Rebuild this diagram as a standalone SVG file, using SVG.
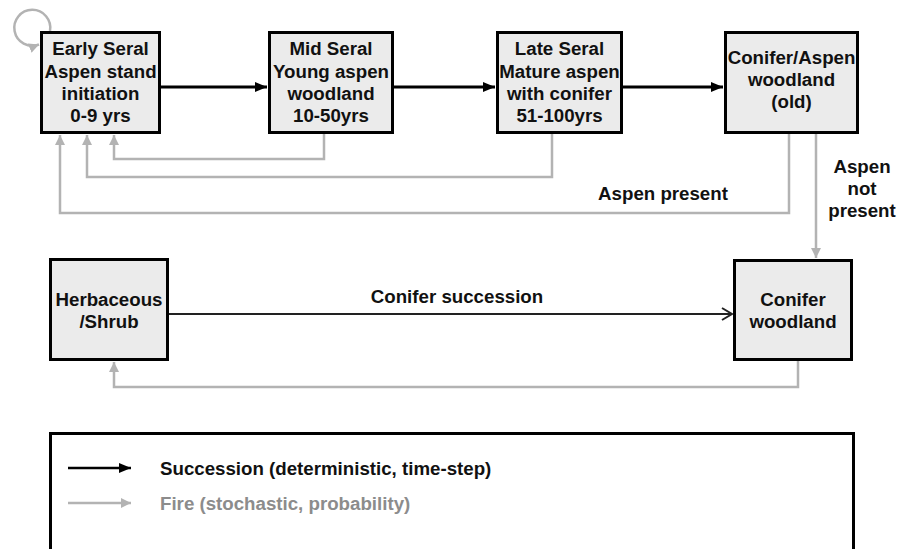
<svg xmlns="http://www.w3.org/2000/svg" width="898" height="549" viewBox="0 0 898 549">
<style>
  .box { fill: #ebebeb; stroke: #000; stroke-width: 3; }
  .t { font-family: "Liberation Sans", Arial, sans-serif; font-weight: bold; font-size: 18.7px; fill: #111; text-anchor: middle; }
  .lbl { font-family: "Liberation Sans", Arial, sans-serif; font-weight: bold; font-size: 18.7px; fill: #111; }
  .succ { fill: none; stroke: #000; stroke-width: 3; marker-end: url(#blk); }
  .fire { fill: none; stroke: #b3b3b3; stroke-width: 2.5; marker-end: url(#gry); }
</style>
<defs>
  <marker id="blk" markerUnits="userSpaceOnUse" markerWidth="14" markerHeight="12" refX="12" refY="6" orient="auto">
    <path d="M0,1 L12,6 L0,11 Z" fill="#000"/>
  </marker>
  <marker id="gry" markerUnits="userSpaceOnUse" markerWidth="12" markerHeight="12" refX="10" refY="6" orient="auto">
    <path d="M0,1 L10,6 L0,11 Z" fill="#b3b3b3"/>
  </marker>
  <marker id="open" markerUnits="userSpaceOnUse" markerWidth="14" markerHeight="14" refX="11" refY="7" orient="auto">
    <path d="M1,1 L11,7 L1,13" fill="none" stroke="#222" stroke-width="2"/>
  </marker>
</defs>

<g id="connectors">
  <path class="fire" d="M50,31 A18,18 0 1 0 39,44.5"/>
  <line class="succ" x1="161" y1="87" x2="267" y2="87"/>
  <line class="succ" x1="394" y1="87" x2="495" y2="87"/>
  <line class="succ" x1="623" y1="87" x2="723" y2="87"/>
  <path class="fire" d="M324,134 V159 H114 V135"/>
  <path class="fire" d="M552,134 V177 H87 V135"/>
  <path class="fire" d="M789,134 V213 H60 V135"/>
  <path class="fire" d="M816,134 V258"/>
  <line x1="169" y1="314" x2="732" y2="314" stroke="#222" stroke-width="2" marker-end="url(#open)"/>
  <path class="fire" d="M798,361 V387 H114 V362"/>
  <text class="t" x="663" y="200">Aspen present</text>
  <text class="t" x="862" y="173">Aspen</text>
  <text class="t" x="862" y="195">not</text>
  <text class="t" x="862" y="217">present</text>
  <text class="t" x="457" y="303">Conifer succession</text>
</g>

<g id="early-seral">
  <rect class="box" x="41.5" y="32.5" width="118" height="100"/>
  <text class="t" x="100.5" y="55">Early Seral</text>
  <text class="t" x="100.5" y="77.5">Aspen stand</text>
  <text class="t" x="100.5" y="100">initiation</text>
  <text class="t" x="100.5" y="122">0-9 yrs</text>
</g>

<g id="mid-seral">
  <rect class="box" x="269.5" y="32.5" width="123" height="100"/>
  <text class="t" x="331" y="55">Mid Seral</text>
  <text class="t" x="331" y="77.5">Young aspen</text>
  <text class="t" x="331" y="100">woodland</text>
  <text class="t" x="331" y="122">10-50yrs</text>
</g>

<g id="late-seral">
  <rect class="box" x="497.5" y="32.5" width="124" height="100"/>
  <text class="t" x="559.5" y="55">Late Seral</text>
  <text class="t" x="559.5" y="77.5">Mature aspen</text>
  <text class="t" x="559.5" y="100">with conifer</text>
  <text class="t" x="559.5" y="122">51-100yrs</text>
</g>

<g id="conifer-aspen">
  <rect class="box" x="725.5" y="32.5" width="132" height="100"/>
  <text class="t" x="791.5" y="64">Conifer/Aspen</text>
  <text class="t" x="791.5" y="86">woodland</text>
  <text class="t" x="791.5" y="108">(old)</text>
</g>

<g id="herbaceous">
  <rect class="box" x="50.5" y="259.5" width="117" height="100"/>
  <text class="t" x="109" y="306">Herbaceous</text>
  <text class="t" x="109" y="328">/Shrub</text>
</g>

<g id="conifer-woodland">
  <rect class="box" x="734.5" y="260.5" width="117" height="99"/>
  <text class="t" x="793" y="306">Conifer</text>
  <text class="t" x="793" y="328">woodland</text>
</g>

<g id="legend">
  <rect x="50.5" y="433.5" width="803" height="140" fill="none" stroke="#000" stroke-width="3"/>
  <line class="succ" x1="68" y1="468" x2="131" y2="468" style="stroke-width:2.5"/>
  <text class="lbl" x="160" y="475">Succession (deterministic, time-step)</text>
  <line class="fire" x1="68" y1="503" x2="131" y2="503"/>
  <text class="lbl" x="160" y="510" style="fill:#8c8c8c">Fire (stochastic, probability)</text>
</g>
</svg>
